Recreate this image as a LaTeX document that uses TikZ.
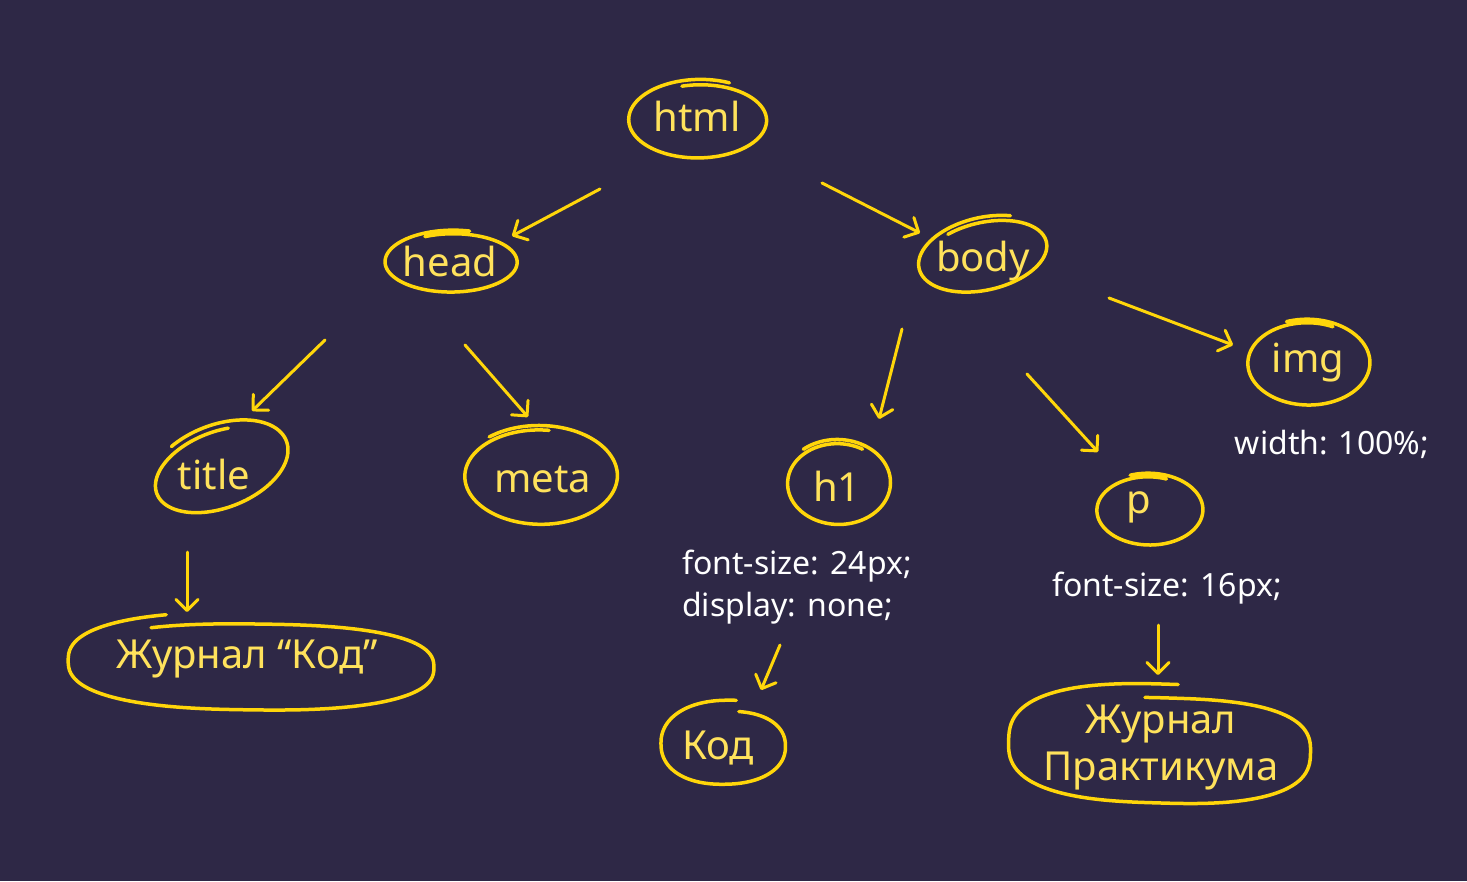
\documentclass[tikz,border=0pt]{standalone}
\usepackage{fontspec}
\setmainfont{Noto Sans}
\usetikzlibrary{arrows.meta}

\definecolor{bgpurple}{HTML}{2E2846}
\definecolor{penyellow}{HTML}{FFD60A}
\definecolor{tagyellow}{HTML}{FFE25C}

% hand-drawn loop round a tag: [options]{node}{x radius}{y radius}{start angle}{extra angle}{drift}{squareness}
\newcommand{\scrawl}[8][]{%
  \pgfmathsetmacro{\loopend}{#5+360+#6}%
  \draw[loop line, shift={(#2.center)}, #1]
    plot[domain=#5:\loopend, samples=120, smooth]
    ({(#3+#7*(\x-#5)/(360+#6))*sign(cos(\x))*(abs(cos(\x))+0.0001)^#8},
     {-(#4+#7*(\x-#5)/(360+#6))*sign(sin(\x))*(abs(sin(\x))+0.0001)^#8});
}

\begin{document}
\begin{tikzpicture}[
    x=1pt, y=-1pt,
    tag/.style={text=tagyellow, inner sep=0pt, align=center, font=\fontsize{40}{47}\selectfont},
    note/.style={text=white, inner sep=0pt, align=left, font=\fontsize{32}{42}\selectfont},
    loop line/.style={draw=penyellow, line width=3.5pt, line cap=round, line join=round},
    pointer/.style={draw=penyellow, line width=3pt, line cap=round,
        -{Straight Barb[length=11pt, width=22pt, line width=3pt, round]}}
]
\fill[bgpurple] (0,0) rectangle (1467,881);

% tags
\node[tag] (html) at (697,116) {html};
\node[tag] (head) at (450,261) {head};
\node[tag] (body) at (983,261) {body};
\node[tag] (title) at (214,474) {title};
\node[tag] (meta) at (543,480) {meta};
\node[tag] (h1) at (837,486) {h1};
\node[tag] (p) at (1139,507) {p};
\node[tag] (img) at (1308,363) {img};
\node[tag] (titletext) at (247,659) {Журнал “Код”};
\node[tag] (h1text) at (718,748) {Код};
\node[tag] (ptext) at (1161,748) {Журнал\\Практикума};

% css notes
\node[note, anchor=center] (imgcss) at (1332,444) {width: 100\%;};
\node[note, anchor=west] (h1css) at (682,587) {font-size: 24px;\\display: none;};
\node[note, anchor=center] (pcss) at (1167,588) {font-size: 16px;};

% loops
\scrawl[xshift=2, yshift=-4]{html}{72}{41}{65}{40}{-6}{1}
\scrawl[xshift=2, yshift=-1]{head}{68}{32}{75}{40}{-4}{1}
\scrawl[xshift=1, yshift=6, rotate=12]{body}{68}{38}{60}{60}{-6}{1}
\scrawl[xshift=6, yshift=6, rotate=22]{title}{66}{36}{70}{50}{8}{1}
\scrawl[xshift=-3, yshift=4]{meta}{74}{46}{83}{47}{5}{1}
\scrawl[xshift=1, yshift=3]{h1}{49}{39}{60}{70}{5}{1}
\scrawl[xshift=10, yshift=-3]{p}{51}{33}{70}{40}{4}{1}
\scrawl{img}{59}{40}{65}{45}{4}{1}
\scrawl[xshift=7, yshift=-5, rotate=-1]{titletext}{188}{51}{113}{8}{-12}{0.8}
\scrawl[xshift=8, yshift=3]{h1text}{68}{45}{83}{-4}{-11}{0.9}
\scrawl[xshift=2, yshift=1, rotate=-2]{ptext}{158}{63}{88}{6}{-14}{0.75}

% arrows
\draw[pointer] ([shift={(-97,73)}]html.center) -- ([shift={(62,-25)}]head.center);
\draw[pointer] ([shift={(125,67)}]html.center) -- ([shift={(-63,-28)}]body.center);
\draw[pointer] ([shift={(-125,79)}]head.center) -- ([shift={(38,-63)}]title.center);
\draw[pointer] ([shift={(15,84)}]head.center) -- ([shift={(-15,-63)}]meta.center);
\draw[pointer] ([shift={(-81,68)}]body.center) -- ([shift={(42,-67)}]h1.center);
\draw[pointer] ([shift={(44,113)}]body.center) -- ([shift={(-41,-55)}]p.center);
\draw[pointer] ([shift={(126,37)}]body.center) -- ([shift={(-75,-18)}]img.center);
\draw[pointer] ([shift={(-27,78)}]title.center) -- ([shift={(-60,-47)}]titletext.center);
\draw[pointer] ([shift={(98,58)}]h1css.west) -- ([shift={(43,-58)}]h1text.center);
\draw[pointer] ([shift={(-9,37)}]pcss.center) -- ([shift={(-3,-73)}]ptext.center);
\end{tikzpicture}
\end{document}
